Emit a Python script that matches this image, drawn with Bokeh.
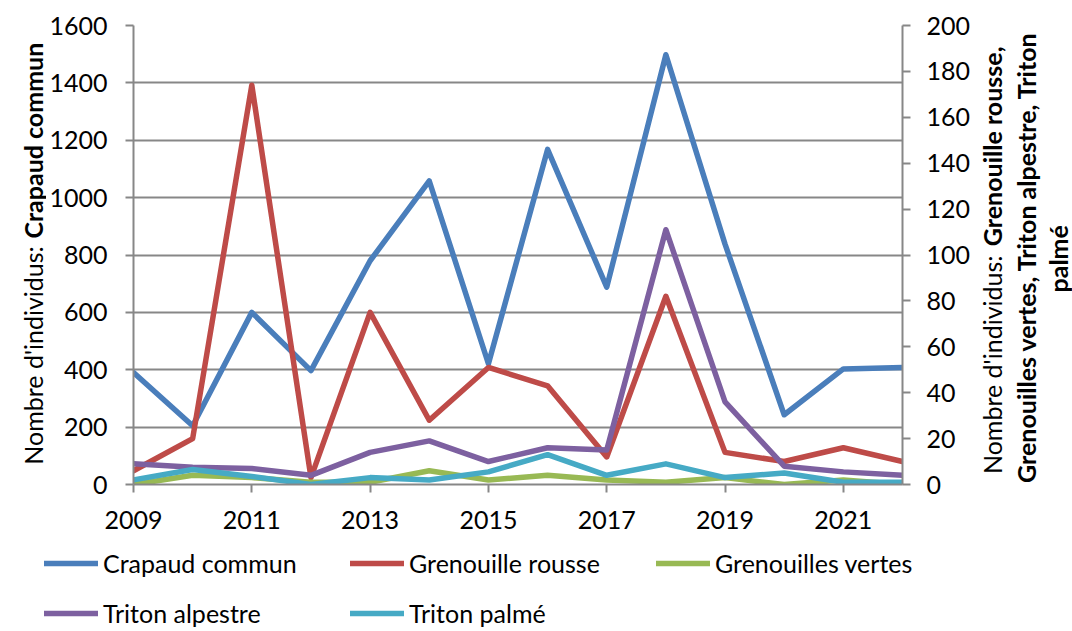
import math
from bokeh.plotting import figure
from bokeh.layouts import row, column
from bokeh.models import Range1d, LinearAxis, FixedTicker, Legend, LegendItem
from bokeh.core.properties import value
from bokeh.embed import file_html
from bokeh.resources import INLINE

years = list(range(2009, 2023))
crapaud = [390, 205, 600, 397, 780, 1058, 421, 1168, 688, 1498, 838, 243, 403, 408]
rousse = [6, 20, 174, 3, 75, 28, 51, 43, 12, 82, 14, 10, 16, 10]
vertes = [0, 4, 3, 1, 1, 6, 2, 4, 2, 1, 3, 0, 2, 0]
alpestre = [9, 7.5, 7, 4, 14, 19, 10, 16, 15, 111, 36, 8, 5.5, 4]
palme = [2, 6.5, 3.5, 0, 3, 2, 5.5, 13, 4, 9, 3, 5, 1, 1]

x_ticks = [2009, 2011, 2013, 2015, 2017, 2019, 2021]
left_ticks = list(range(0, 1601, 200))
right_ticks = list(range(0, 201, 20))

names = ["Crapaud commun", "Grenouille rousse", "Grenouilles vertes", "Triton alpestre", "Triton palmé"]
colors = ["#4A7EBB", "#BE4B48", "#98B954", "#7D60A0", "#46AAC5"]

left_title_regular = "Nombre d'individus:"
left_title_bold = "Crapaud commun"
right_title_regular = "Nombre d'individus:"
right_title_bold = ["Grenouille rousse,", "Grenouilles vertes, Triton alpestre, Triton", "palmé"]

FONT = "Lato"
FS = "25px"
GRID = "#878787"
W, H = 1072, 631
TOPH = 545            # height of the chart row
LW, MW = 46, 929
RW = W - LW - MW
series = [crapaud, rousse, vertes, alpestre, palme]

# ---------------- main chart ----------------
p = figure(width=MW, height=TOPH, output_backend="svg", toolbar_location=None,
           x_range=Range1d(2009, 2022), y_range=Range1d(0, 1600))
p.min_border_left = 124 - LW
p.min_border_right = LW + MW - 902
p.min_border_top = 25
p.min_border_bottom = TOPH - 484
p.outline_line_color = None
p.extra_y_ranges = {"right": Range1d(0, 200)}

def style_axis(ax, standoff):
    ax.major_label_text_font = FONT
    ax.major_label_text_font_size = FS
    ax.major_label_text_color = "black"
    ax.axis_line_color = GRID
    ax.axis_line_width = 2
    ax.major_tick_line_color = GRID
    ax.major_tick_line_width = 2
    ax.major_tick_in = 0
    ax.major_tick_out = 8
    ax.minor_tick_line_color = None
    ax.major_label_standoff = standoff

p.xaxis.ticker = FixedTicker(ticks=x_ticks)
p.yaxis.ticker = FixedTicker(ticks=left_ticks)
style_axis(p.xaxis[0], 18)
style_axis(p.yaxis[0], 18)

ra = LinearAxis(y_range_name="right", ticker=FixedTicker(ticks=right_ticks))
style_axis(ra, 16)
p.add_layout(ra, "right")

p.xgrid.visible = False
p.ygrid.ticker = FixedTicker(ticks=left_ticks)
p.ygrid.grid_line_color = GRID
p.ygrid.grid_line_width = 2

for i, (vals, c) in enumerate(zip(series, colors)):
    kw = {} if i == 0 else {"y_range_name": "right"}
    p.line(years, vals, line_color=c, line_width=5.5, line_join="round", line_cap="round", **kw)

# ---------------- axis titles ----------------
def text_fig(w, h):
    f = figure(width=w, height=h, output_backend="svg", toolbar_location=None,
               x_range=Range1d(0, w), y_range=Range1d(0, h),
               x_axis_type=None, y_axis_type=None, min_border=0)
    f.outline_line_color = None
    f.grid.visible = False
    return f

def txt(f, x, y, t, align, bold):
    f.text(x=[x], y=[TOPH - y], text=[t], angle=math.pi / 2, text_align=value(align),
           text_baseline=value("middle"), text_font=value(FONT), text_font_size=value(FS),
           text_color="black", text_font_style=value("bold" if bold else "normal"))

lf = text_fig(LW, TOPH)
txt(lf, 32, 262, left_title_regular, "right", False)
txt(lf, 32, 253, left_title_bold, "left", True)

rf = text_fig(RW, TOPH)
x0 = LW + MW
txt(rf, 991 - x0, 273, right_title_regular, "right", False)
txt(rf, 991 - x0, 262, right_title_bold[0], "left", True)
txt(rf, 1025 - x0, 275, right_title_bold[1], "center", True)
txt(rf, 1057 - x0, 277, right_title_bold[2], "center", True)

# ---------------- legend ----------------
LH = H - TOPH
lg = text_fig(W, LH)
lg_r = []
for vals, c in zip(series, colors):
    r = lg.line(years, vals, line_color=c, line_width=5.5, line_cap="round", visible=False)
    lg_r.append(r)
legend = Legend(items=[LegendItem(label=n, renderers=[r]) for n, r in zip(names, lg_r)],
                location=(44, 3), orientation="horizontal", ncols=3,
                glyph_width=54, glyph_height=30, label_height=30, label_width=227,
                label_standoff=5, spacing=20, padding=0, margin=0,
                border_line_color=None, background_fill_alpha=0,
                inactive_fill_alpha=0, click_policy="none",
                label_text_font=FONT, label_text_font_size=FS, label_text_color="black")
lg.add_layout(legend, "center")

layout = column(row(lf, p, rf, spacing=0), lg, spacing=0)
open("out.html", "w").write(file_html(layout, INLINE))
